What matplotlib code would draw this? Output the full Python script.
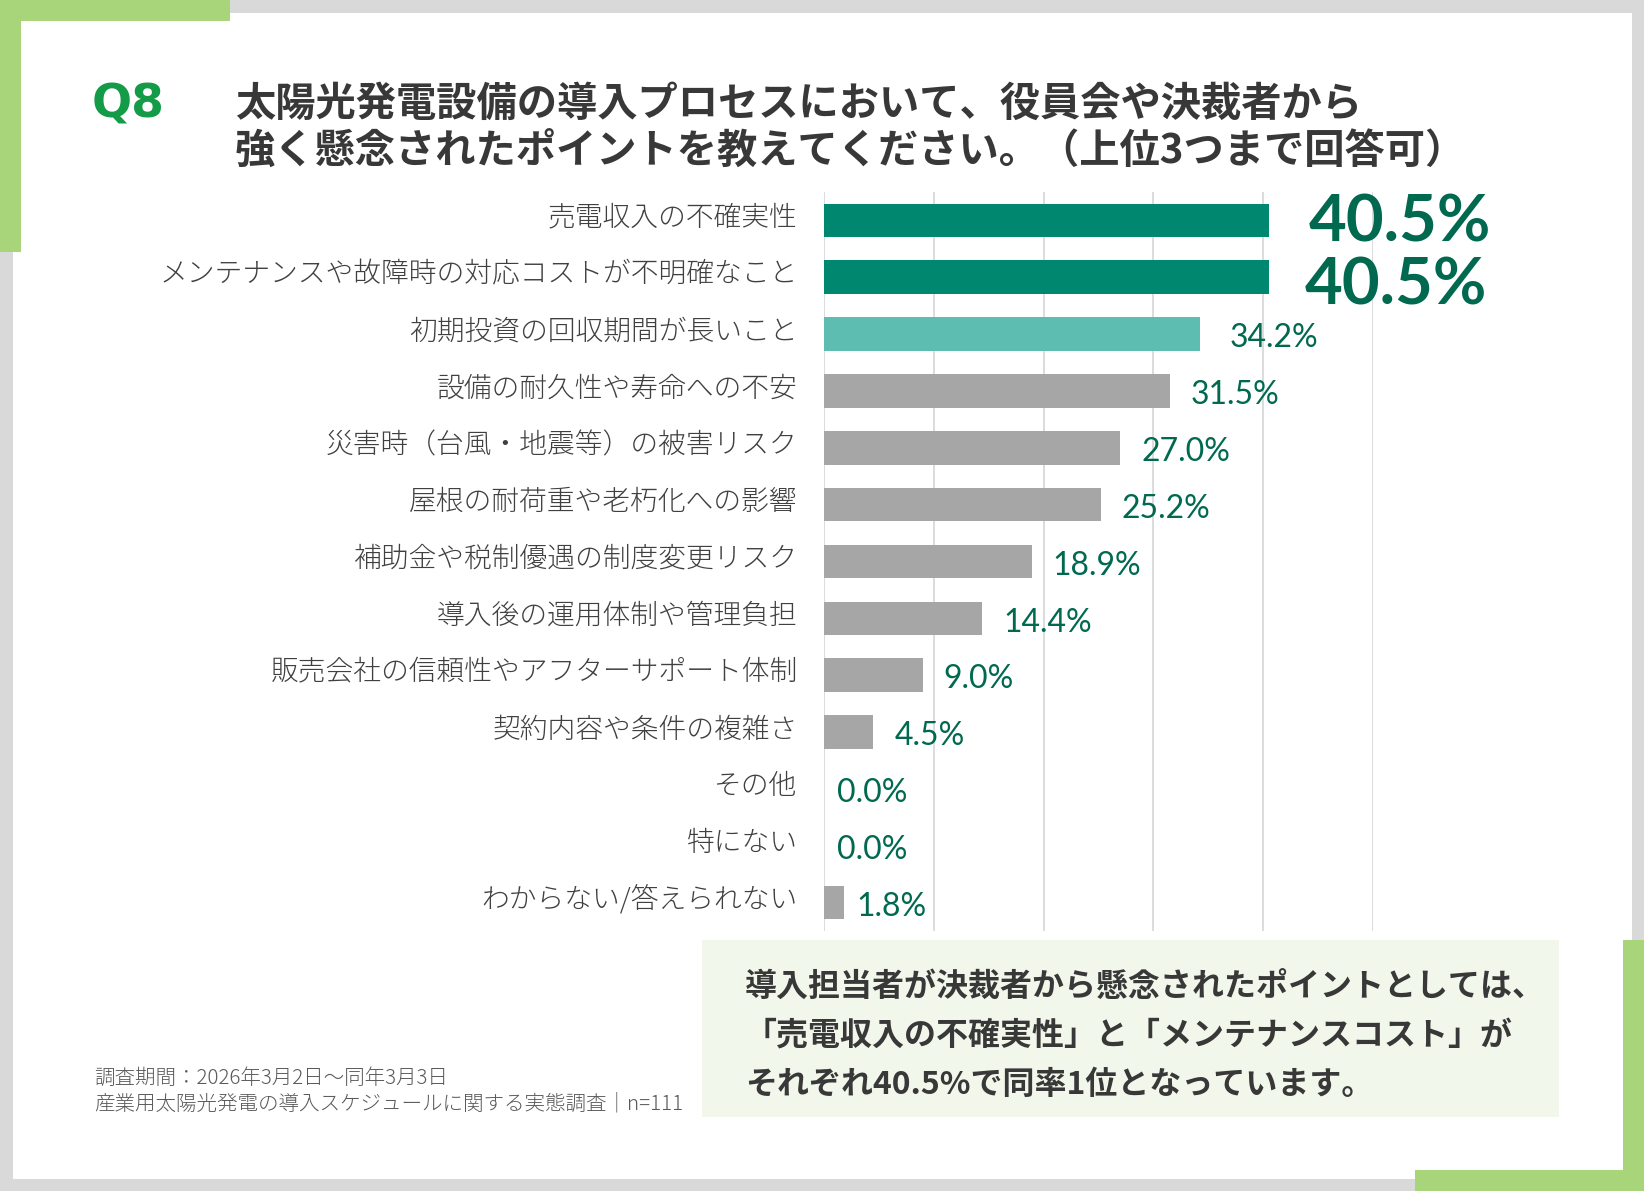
import matplotlib
matplotlib.use('agg')
import matplotlib.pyplot as plt
from matplotlib.patches import Rectangle
from matplotlib.transforms import ScaledTranslation

# chart data
categories = [
    '売電収入の不確実性',
    'メンテナンスや故障時の対応コストが不明確なこと',
    '初期投資の回収期間が長いこと',
    '設備の耐久性や寿命への不安',
    '災害時（台風・地震等）の被害リスク',
    '屋根の耐荷重や老朽化への影響',
    '補助金や税制優遇の制度変更リスク',
    '導入後の運用体制や管理負担',
    '販売会社の信頼性やアフターサポート体制',
    '契約内容や条件の複雑さ',
    'その他',
    '特にない',
    'わからない/答えられない',
]
values = [40.5, 40.5, 34.2, 31.5, 27.0, 25.2, 18.9, 14.4, 9.0, 4.5, 0.0, 0.0, 1.8]
grid_ticks = [0, 10, 20, 30, 40, 50]

question_no = 'Q8'
title_lines = [
    '太陽光発電設備の導入プロセスにおいて、役員会や決裁者から',
    '強く懸念されたポイントを教えてください。（上位3つまで回答可）',
]
note_lines = [
    '導入担当者が決裁者から懸念されたポイントとしては、',
    '「売電収入の不確実性」と「メンテナンスコスト」が',
    'それぞれ40.5%で同率1位となっています。',
]
footnote_lines = [
    '調査期間：2026年3月2日〜同年3月3日',
    '産業用太陽光発電の導入スケジュールに関する実態調査｜n=111',
]

plt.rcParams['font.family'] = ['Noto Sans CJK JP', 'DejaVu Sans']

W, H = 1644, 1191
fig = plt.figure(figsize=(W / 100, H / 100), dpi=100)
fig.patch.set_facecolor('#d9d9d9')

# background layer in pixel coordinates
bg = fig.add_axes([0, 0, 1, 1], zorder=0)
bg.set_xlim(0, W)
bg.set_ylim(H, 0)
bg.axis('off')

green = '#a8d47a'
bg.add_patch(Rectangle((13, 13), 1619, 1166, color='white', lw=0))
bg.add_patch(Rectangle((0, 0), 230, 21, color=green, lw=0))
bg.add_patch(Rectangle((0, 0), 21, 252, color=green, lw=0))
bg.add_patch(Rectangle((1623, 940), 21, 251, color=green, lw=0))
bg.add_patch(Rectangle((1415, 1170), 229, 21, color=green, lw=0))

# question header
bg.text(92, 105, question_no, fontsize=34, fontweight='bold', color='#139b48',
        family='DejaVu Sans', va='center', ha='left')
for k, line in enumerate(title_lines):
    bg.text(235, 104 + k * 47, line, fontsize=29, fontweight='bold',
            color='#383838', va='center', ha='left')

# summary box
bg.add_patch(Rectangle((702, 940), 857, 177, color='#f2f7eb', lw=0))
for k, line in enumerate(note_lines):
    bg.text(745, 988 + k * 48.5, line, fontsize=23, fontweight='bold',
            color='#383838', va='center', ha='left')

# footnote
for k, line in enumerate(footnote_lines):
    bg.text(94, 1078 + k * 26, line, fontsize=14.8, fontweight='light',
            color='#595959', va='center', ha='left')

# bar chart
ax = fig.add_axes([824 / W, 1 - 931 / H, (1373 - 824) / W, (931 - 192) / H], zorder=1)
ax.patch.set_alpha(0)

n = len(categories)
colors = []
for i in range(n):
    if i < 2:
        colors.append('#00876f')
    elif i == 2:
        colors.append('#5ebdb1')
    else:
        colors.append('#a6a6a6')

ax.barh(range(n), values, height=0.59, color=colors, zorder=2)

ax.set_xlim(grid_ticks[0], grid_ticks[-1])
ax.set_ylim(n - 0.5, -0.5)
ax.set_xticks(grid_ticks)
ax.set_xticklabels([])
ax.tick_params(axis='x', length=0)
ax.grid(axis='x', color='#d9d9d9', lw=1.3, zorder=0)
ax.set_axisbelow(True)
for s in ax.spines.values():
    s.set_visible(False)

ax.set_yticks(range(n))
ax.set_yticklabels(categories, fontsize=20, fontweight='light', color='#404040')
ax.tick_params(axis='y', length=0, pad=19)
lift = ScaledTranslation(0, 4 / 72, fig.dpi_scale_trans)
for lbl in ax.get_yticklabels():
    lbl.set_transform(lbl.get_transform() + lift)

label_color = '#00694f'
for i, v in enumerate(values):
    if i < 2:
        dx, dy = (29, -2) if i == 0 else (26, -6)
        ax.annotate(f'{v:.1f}%', xy=(v, i), xytext=(dx, dy), textcoords='offset points',
                    fontsize=47, fontweight='bold', color=label_color,
                    family=['Lato', 'DejaVu Sans'], va='center', ha='left',
                    annotation_clip=False)
    else:
        off = 22 if i == 2 else (15 if v >= 4 else 9)
        ax.annotate(f'{v:.1f}%', xy=(v, i), xytext=(off, -3), textcoords='offset points',
                    fontsize=23, color=label_color,
                    family=['Lato', 'DejaVu Sans'], va='center', ha='left',
                    annotation_clip=False)

fig.savefig('out.png', dpi=100)
plt.close(fig)
